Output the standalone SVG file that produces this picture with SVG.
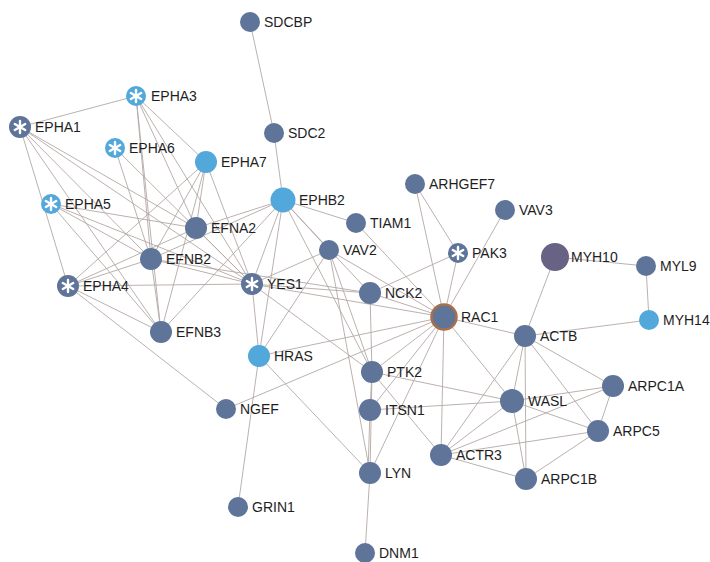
<svg xmlns="http://www.w3.org/2000/svg" width="710" height="562" viewBox="0 0 710 562">
<style>
.e{stroke:#b3a8a5;stroke-width:0.9;fill:none}
.d{fill:#5f7499}
.l{fill:#52a8da}
.p{fill:#686385}
.t{font-family:"Liberation Sans",Arial,sans-serif;font-size:14px;fill:#1e1e1e}
.ast{stroke:#fff;stroke-width:2.4;stroke-linecap:round}
</style>
<defs>
<g id="ast" class="ast"><line x1="0" y1="-6" x2="0" y2="6"/><line x1="-5.2" y1="-3" x2="5.2" y2="3"/><line x1="-5.2" y1="3" x2="5.2" y2="-3"/></g>
</defs>
<rect width="710" height="562" fill="#fff"/>
<g id="edges">
<line class="e" x1="250" y1="22" x2="274" y2="133"/>
<line class="e" x1="274" y1="133" x2="283" y2="200"/>
<line class="e" x1="136" y1="96" x2="20" y2="127"/>
<line class="e" x1="136" y1="96" x2="206" y2="162"/>
<line class="e" x1="136" y1="96" x2="151" y2="259"/>
<line class="e" x1="136" y1="96" x2="196" y2="228"/>
<line class="e" x1="136" y1="96" x2="252" y2="284"/>
<line class="e" x1="136" y1="96" x2="161" y2="332"/>
<line class="e" x1="20" y1="127" x2="196" y2="228"/>
<line class="e" x1="20" y1="127" x2="151" y2="259"/>
<line class="e" x1="20" y1="127" x2="252" y2="284"/>
<line class="e" x1="20" y1="127" x2="161" y2="332"/>
<line class="e" x1="20" y1="127" x2="68" y2="286"/>
<line class="e" x1="115" y1="148" x2="151" y2="259"/>
<line class="e" x1="115" y1="148" x2="252" y2="284"/>
<line class="e" x1="206" y1="162" x2="196" y2="228"/>
<line class="e" x1="206" y1="162" x2="151" y2="259"/>
<line class="e" x1="206" y1="162" x2="161" y2="332"/>
<line class="e" x1="206" y1="162" x2="252" y2="284"/>
<line class="e" x1="206" y1="162" x2="68" y2="286"/>
<line class="e" x1="51" y1="204" x2="196" y2="228"/>
<line class="e" x1="51" y1="204" x2="151" y2="259"/>
<line class="e" x1="51" y1="204" x2="252" y2="284"/>
<line class="e" x1="51" y1="204" x2="161" y2="332"/>
<line class="e" x1="68" y1="286" x2="151" y2="259"/>
<line class="e" x1="68" y1="286" x2="161" y2="332"/>
<line class="e" x1="68" y1="286" x2="252" y2="284"/>
<line class="e" x1="68" y1="286" x2="196" y2="228"/>
<line class="e" x1="68" y1="286" x2="226" y2="409"/>
<line class="e" x1="283" y1="200" x2="196" y2="228"/>
<line class="e" x1="283" y1="200" x2="151" y2="259"/>
<line class="e" x1="283" y1="200" x2="161" y2="332"/>
<line class="e" x1="283" y1="200" x2="252" y2="284"/>
<line class="e" x1="283" y1="200" x2="259" y2="356"/>
<line class="e" x1="283" y1="200" x2="356" y2="223"/>
<line class="e" x1="283" y1="200" x2="329" y2="250"/>
<line class="e" x1="283" y1="200" x2="370" y2="293"/>
<line class="e" x1="283" y1="200" x2="372" y2="372"/>
<line class="e" x1="196" y1="228" x2="252" y2="284"/>
<line class="e" x1="151" y1="259" x2="252" y2="284"/>
<line class="e" x1="151" y1="259" x2="370" y2="293"/>
<line class="e" x1="151" y1="259" x2="161" y2="332"/>
<line class="e" x1="252" y1="284" x2="259" y2="356"/>
<line class="e" x1="252" y1="284" x2="370" y2="293"/>
<line class="e" x1="252" y1="284" x2="444" y2="317"/>
<line class="e" x1="252" y1="284" x2="372" y2="372"/>
<line class="e" x1="329" y1="250" x2="252" y2="284"/>
<line class="e" x1="329" y1="250" x2="259" y2="356"/>
<line class="e" x1="329" y1="250" x2="372" y2="372"/>
<line class="e" x1="329" y1="250" x2="370" y2="473"/>
<line class="e" x1="329" y1="250" x2="444" y2="317"/>
<line class="e" x1="356" y1="223" x2="444" y2="317"/>
<line class="e" x1="415" y1="184" x2="444" y2="317"/>
<line class="e" x1="415" y1="184" x2="458" y2="253"/>
<line class="e" x1="505" y1="210" x2="444" y2="317"/>
<line class="e" x1="458" y1="253" x2="444" y2="317"/>
<line class="e" x1="458" y1="253" x2="370" y2="293"/>
<line class="e" x1="370" y1="293" x2="444" y2="317"/>
<line class="e" x1="370" y1="293" x2="372" y2="372"/>
<line class="e" x1="259" y1="356" x2="444" y2="317"/>
<line class="e" x1="259" y1="356" x2="238" y2="507"/>
<line class="e" x1="259" y1="356" x2="370" y2="473"/>
<line class="e" x1="226" y1="409" x2="444" y2="317"/>
<line class="e" x1="372" y1="372" x2="444" y2="317"/>
<line class="e" x1="372" y1="372" x2="370" y2="410"/>
<line class="e" x1="372" y1="372" x2="370" y2="473"/>
<line class="e" x1="372" y1="372" x2="512" y2="401"/>
<line class="e" x1="372" y1="372" x2="441" y2="455"/>
<line class="e" x1="370" y1="410" x2="444" y2="317"/>
<line class="e" x1="370" y1="410" x2="368" y2="473"/>
<line class="e" x1="370" y1="410" x2="512" y2="401"/>
<line class="e" x1="370" y1="473" x2="444" y2="317"/>
<line class="e" x1="370" y1="473" x2="365" y2="553"/>
<line class="e" x1="441" y1="455" x2="444" y2="317"/>
<line class="e" x1="512" y1="401" x2="444" y2="317"/>
<line class="e" x1="525" y1="336" x2="444" y2="317"/>
<line class="e" x1="525" y1="336" x2="555" y2="257"/>
<line class="e" x1="525" y1="336" x2="649" y2="320"/>
<line class="e" x1="555" y1="257" x2="646" y2="266"/>
<line class="e" x1="646" y1="266" x2="649" y2="320"/>
<line class="e" x1="525" y1="336" x2="512" y2="401"/>
<line class="e" x1="525" y1="336" x2="441" y2="455"/>
<line class="e" x1="525" y1="336" x2="526" y2="479"/>
<line class="e" x1="525" y1="336" x2="598" y2="431"/>
<line class="e" x1="525" y1="336" x2="613" y2="386"/>
<line class="e" x1="512" y1="401" x2="613" y2="386"/>
<line class="e" x1="512" y1="401" x2="598" y2="431"/>
<line class="e" x1="512" y1="401" x2="441" y2="455"/>
<line class="e" x1="512" y1="401" x2="526" y2="479"/>
<line class="e" x1="613" y1="386" x2="598" y2="431"/>
<line class="e" x1="613" y1="386" x2="441" y2="455"/>
<line class="e" x1="598" y1="431" x2="441" y2="455"/>
<line class="e" x1="598" y1="431" x2="526" y2="479"/>
<line class="e" x1="441" y1="455" x2="526" y2="479"/>
</g>
<g id="SDCBP"><circle class="d" cx="250" cy="22" r="10"/><text class="t" x="264" y="27">SDCBP</text></g>
<g id="SDC2"><circle class="d" cx="274" cy="133" r="10"/><text class="t" x="288" y="138">SDC2</text></g>
<g id="EPHA3"><circle class="l" cx="136" cy="96" r="10"/><use href="#ast" x="136" y="96"/><text class="t" x="151" y="101">EPHA3</text></g>
<g id="EPHA1"><circle class="d" cx="20" cy="127" r="11"/><use href="#ast" x="20" y="127"/><text class="t" x="35" y="132">EPHA1</text></g>
<g id="EPHA6"><circle class="l" cx="115" cy="148" r="10"/><use href="#ast" x="115" y="148"/><text class="t" x="129" y="153">EPHA6</text></g>
<g id="EPHA7"><circle class="l" cx="206" cy="162" r="11"/><text class="t" x="221" y="167">EPHA7</text></g>
<g id="EPHB2"><circle class="l" cx="283" cy="200" r="12.5"/><text class="t" x="299" y="205">EPHB2</text></g>
<g id="EPHA5"><circle class="l" cx="51" cy="204" r="10"/><use href="#ast" x="51" y="204"/><text class="t" x="65" y="209">EPHA5</text></g>
<g id="EFNA2"><circle class="d" cx="196" cy="228" r="11"/><text class="t" x="211" y="233">EFNA2</text></g>
<g id="EFNB2"><circle class="d" cx="151" cy="259" r="11"/><text class="t" x="166" y="264">EFNB2</text></g>
<g id="EPHA4"><circle class="d" cx="68" cy="286" r="11"/><use href="#ast" x="68" y="286"/><text class="t" x="83" y="291">EPHA4</text></g>
<g id="EFNB3"><circle class="d" cx="161" cy="332" r="11"/><text class="t" x="176" y="337">EFNB3</text></g>
<g id="YES1"><circle class="d" cx="252" cy="284" r="11"/><use href="#ast" x="252" y="284"/><text class="t" x="267" y="289">YES1</text></g>
<g id="TIAM1"><circle class="d" cx="356" cy="223" r="10"/><text class="t" x="370" y="228">TIAM1</text></g>
<g id="VAV2"><circle class="d" cx="329" cy="250" r="10"/><text class="t" x="343" y="255">VAV2</text></g>
<g id="NCK2"><circle class="d" cx="370" cy="293" r="11"/><text class="t" x="385" y="298">NCK2</text></g>
<g id="ARHGEF7"><circle class="d" cx="415" cy="184" r="10"/><text class="t" x="429" y="189">ARHGEF7</text></g>
<g id="VAV3"><circle class="d" cx="505" cy="210" r="10"/><text class="t" x="519" y="215">VAV3</text></g>
<g id="PAK3"><circle class="d" cx="458" cy="253" r="10"/><use href="#ast" x="458" y="253"/><text class="t" x="472" y="258">PAK3</text></g>
<g id="MYH10"><circle class="p" cx="555" cy="257" r="14"/><text class="t" x="571" y="262">MYH10</text></g>
<g id="MYL9"><circle class="d" cx="646" cy="266" r="10"/><text class="t" x="660" y="271">MYL9</text></g>
<g id="RAC1"><circle class="d" cx="444" cy="317" r="12.5" stroke="#a8704a" stroke-width="2.5"/><text class="t" x="461" y="322">RAC1</text></g>
<g id="MYH14"><circle class="l" cx="649" cy="320" r="10"/><text class="t" x="663" y="325">MYH14</text></g>
<g id="ACTB"><circle class="d" cx="525" cy="336" r="11"/><text class="t" x="540" y="341">ACTB</text></g>
<g id="HRAS"><circle class="l" cx="259" cy="356" r="11"/><text class="t" x="274" y="361">HRAS</text></g>
<g id="PTK2"><circle class="d" cx="372" cy="372" r="11"/><text class="t" x="387" y="377">PTK2</text></g>
<g id="ARPC1A"><circle class="d" cx="613" cy="386" r="11"/><text class="t" x="628" y="391">ARPC1A</text></g>
<g id="WASL"><circle class="d" cx="512" cy="401" r="12"/><text class="t" x="528" y="406">WASL</text></g>
<g id="ITSN1"><circle class="d" cx="370" cy="410" r="11"/><text class="t" x="385" y="415">ITSN1</text></g>
<g id="NGEF"><circle class="d" cx="226" cy="409" r="10"/><text class="t" x="240" y="414">NGEF</text></g>
<g id="ARPC5"><circle class="d" cx="598" cy="431" r="11"/><text class="t" x="613" y="436">ARPC5</text></g>
<g id="ACTR3"><circle class="d" cx="441" cy="455" r="11"/><text class="t" x="456" y="460">ACTR3</text></g>
<g id="LYN"><circle class="d" cx="370" cy="473" r="11"/><text class="t" x="385" y="478">LYN</text></g>
<g id="ARPC1B"><circle class="d" cx="526" cy="479" r="11"/><text class="t" x="541" y="484">ARPC1B</text></g>
<g id="GRIN1"><circle class="d" cx="238" cy="507" r="10"/><text class="t" x="252" y="512">GRIN1</text></g>
<g id="DNM1"><circle class="d" cx="365" cy="553" r="10"/><text class="t" x="379" y="558">DNM1</text></g>
</svg>
